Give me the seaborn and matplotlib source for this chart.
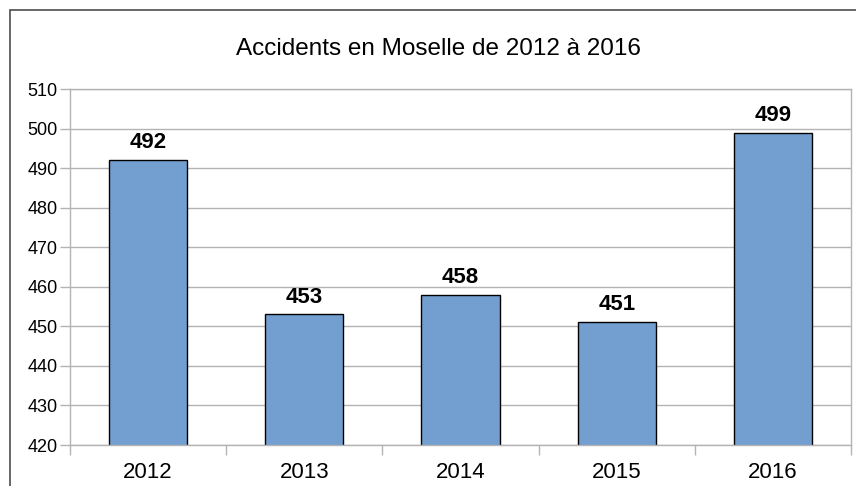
import numpy as np
import pandas as pd
import matplotlib
matplotlib.use('Agg')
import matplotlib.pyplot as plt
from matplotlib.patches import Rectangle
import seaborn as sns

annees = ['2012', '2013', '2014', '2015', '2016']
accidents = [492, 453, 458, 451, 499]
yticks = list(range(420, 511, 10))

sns.set_style('white')
plt.rcParams['font.family'] = ['Liberation Sans', 'DejaVu Sans']
plt.rcParams['text.color'] = 'black'
plt.rcParams['xtick.color'] = 'black'
plt.rcParams['ytick.color'] = 'black'

df = pd.DataFrame({'annee': annees, 'accidents': accidents})

fig = plt.figure(figsize=(8.56, 4.86), dpi=100)
# cadre du graphique
fig.patches.append(Rectangle((9.5 / 856, -0.1), 1.2, 1 - 9.5 / 486 + 0.1,
                             transform=fig.transFigure, fill=False,
                             edgecolor='#4d4d4d', lw=1.2))
ax = fig.add_axes([70 / 856, 1 - 445 / 486, 781 / 856, 356 / 486])

sns.barplot(data=df, x='annee', y='accidents', color='#729fcf', saturation=1,
            edgecolor='black', linewidth=1, width=0.5, ax=ax)

ax.set_ylim(420, 510)
ax.set_xlim(-0.5, 4.5)
ax.set_yticks(yticks)
ax.yaxis.grid(True, color='#b3b3b3', lw=1)
ax.set_axisbelow(True)
for s in ax.spines.values():
    s.set_color('#b3b3b3')
    s.set_linewidth(1)

ax.set_xticks(np.arange(-0.5, 5, 1), minor=True)
ax.tick_params(axis='x', which='major', bottom=True, length=0, labelsize=16,
               pad=12, labelcolor='black')
ax.tick_params(axis='x', which='minor', bottom=True, length=7,
               color='#b3b3b3', width=1)
ax.tick_params(axis='y', left=True, length=7, color='#b3b3b3', width=1,
               labelsize=13, pad=2, labelcolor='black')
ax.set_xlabel('')
ax.set_ylabel('')

for i, v in enumerate(accidents):
    ax.annotate(str(v), (i, v), xytext=(0, 5), textcoords='offset points',
                ha='center', va='bottom', fontsize=16, fontweight='bold',
                color='black')

fig.text(438 / 856, 1 - 49 / 486, 'Accidents en Moselle de 2012 à 2016',
         ha='center', va='center', fontsize=17.5, color='black')

plt.savefig('out.png', dpi=100)
